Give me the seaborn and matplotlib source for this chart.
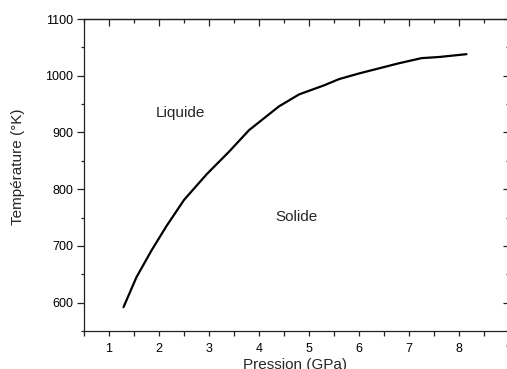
import matplotlib
matplotlib.use("Agg")
import matplotlib.pyplot as plt
from matplotlib.ticker import MultipleLocator
import numpy as np
import pandas as pd
import seaborn as sns

# Melting curve: pressure (GPa) vs temperature (K)
pression = [1.29, 1.55, 1.85, 2.15, 2.5, 2.95, 3.4, 3.8, 4.4, 4.8,
            5.3, 5.6, 6.0, 6.4, 6.8, 7.25, 7.6, 8.15]
temperature = [592, 645, 692, 735, 781, 826, 866, 904, 946, 967,
               983, 994, 1004, 1013, 1022, 1031, 1033, 1038]

x_ticks = [1, 2, 3, 4, 5, 6, 7, 8, 9]
y_ticks = [600, 700, 800, 900, 1000, 1100]

df = pd.DataFrame({"Pression": pression, "Temperature": temperature})

sns.set_theme(style="ticks")
plt.rcParams["font.family"] = ["Liberation Sans", "DejaVu Sans"]

fig = plt.figure(figsize=(5.07, 3.69), dpi=100)
ax = fig.add_axes([84 / 507, 38 / 369, 425 / 507, 312 / 369])

sns.lineplot(data=df, x="Pression", y="Temperature", ax=ax,
             color="black", linewidth=1.6, sort=False, estimator=None)

ax.set_xlim(0.5, 9.0)
ax.set_ylim(550, 1100)
ax.set_xticks(x_ticks)
ax.set_yticks(y_ticks)
ax.xaxis.set_minor_locator(MultipleLocator(0.5))
ax.yaxis.set_minor_locator(MultipleLocator(50))

for s in ax.spines.values():
    s.set_color("#222222")
    s.set_linewidth(0.9)

ax.tick_params(axis="both", which="major", direction="out", colors="#222222",
               labelcolor="black", labelsize=9, width=0.9)
ax.tick_params(axis="y", which="major", length=5, pad=3)
ax.tick_params(axis="y", which="minor", length=2.5, width=0.9, color="#222222")
ax.tick_params(axis="x", which="major", length=3.5, pad=5)
ax.tick_params(axis="x", which="minor", length=3.5, width=0.9, color="#222222")

# Inward ticks on the top and right edges
top = ax.secondary_xaxis("top")
top.set_xticks(x_ticks)
top.xaxis.set_minor_locator(MultipleLocator(0.5))
top.tick_params(which="major", direction="in", length=5, width=0.9,
                color="#222222", labeltop=False)
top.tick_params(which="minor", direction="in", length=3, width=0.9,
                color="#222222")
top.spines["top"].set_linewidth(0.9)
top.spines["top"].set_color("#222222")

right = ax.secondary_yaxis("right")
right.set_yticks(y_ticks)
right.yaxis.set_minor_locator(MultipleLocator(50))
right.tick_params(which="major", direction="in", length=4.5, width=0.9,
                  color="#222222", labelright=False)
right.tick_params(which="minor", direction="in", length=2.5, width=0.9,
                  color="#222222")

ax.set_xlabel("Pression (GPa)", fontsize=11)
ax.xaxis.set_label_coords(0.497, -0.085)
ax.set_ylabel("Température (°K)", fontsize=11)
ax.yaxis.set_label_coords(-0.139, 0.525)

ax.text(2.42, 934, "Liquide", fontsize=11, ha="center", va="center")
ax.text(4.75, 751, "Solide", fontsize=11, ha="center", va="center")

fig.savefig("out.png", dpi=100)
